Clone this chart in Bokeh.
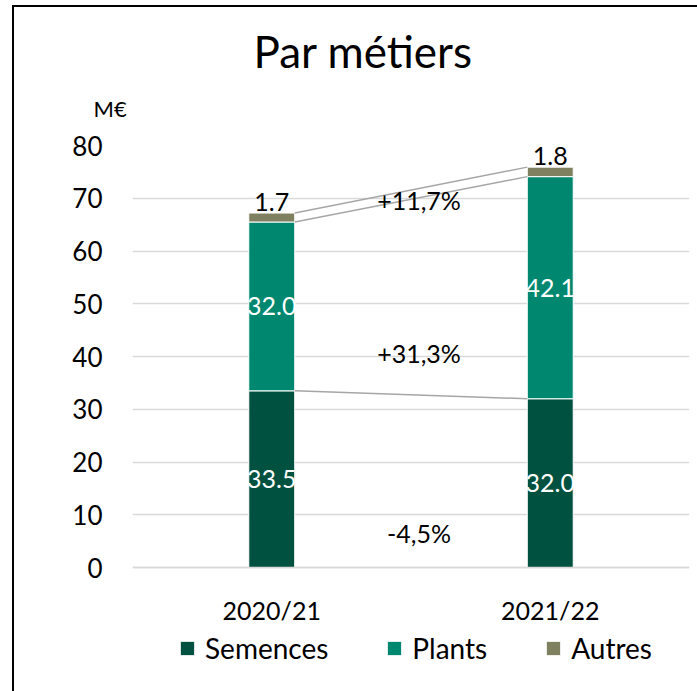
from bokeh.plotting import figure
from bokeh.models import (ColumnDataSource, FactorRange, Range1d, Label, LabelSet,
                          Legend, LegendItem, FixedTicker, Title)
from bokeh.core.properties import value
from bokeh.transform import dodge
from bokeh.embed import file_html
from bokeh.resources import INLINE

# ---------------- data ----------------
years = ["2020/21", "2021/22"]
series = ["Semences", "Plants", "Autres"]
semences = [33.5, 32.0]
plants = [32.0, 42.1]
autres = [1.7, 1.8]
changes = ["-4,5%", "+31,3%", "+11,7%"]      # Semences, Plants, total
y_ticks = [0, 10, 20, 30, 40, 50, 60, 70, 80]
title_text = "Par métiers"
unit_text = "M€"

# ---------------- style / layout ----------------
FONT = "Lato"
colors = ["#00513F", "#00876F", "#7E8060"]
GRID = "#d9d9d9"
CONN = "#a6a6a6"
BAR_W = 0.165
Y_BOTTOM = -21.4               # extra room under the axis for labels + legend
CHANGE_Y = [6.6, 40.6, 69.6]   # label positions (layout)

p = figure(title=None, x_range=FactorRange(*years), y_range=Range1d(Y_BOTTOM, 80),
           frame_width=557, frame_height=535,
           output_backend="svg", toolbar_location=None,
           min_border_left=132, min_border_right=8, min_border_top=145,
           min_border_bottom=11)
p.outline_line_color = None
p.background_fill_color = "white"
p.border_fill_alpha = 0
p.styles = {
    "background": "linear-gradient(#000, #000) 12px 5px / 2px 100% no-repeat, "
                  "linear-gradient(#000, #000) 12px 5px / 100% 2px no-repeat, white"
}

src = ColumnDataSource(dict(year=years, Semences=semences, Plants=plants, Autres=autres))
rs = p.vbar_stack(series, x="year", width=BAR_W, fill_color=colors,
                  line_color="white", line_width=1, source=src)

# segment labels
lab_src = ColumnDataSource(dict(
    year=years + years,
    y=[s / 2 for s in semences] + [s + pl / 2 for s, pl in zip(semences, plants)],
    text=["%.1f" % v for v in semences] + ["%.1f" % v for v in plants]))
p.add_layout(LabelSet(x="year", y="y", text="text", source=lab_src,
                      text_color="white", text_font=value(FONT), text_font_size="25px",
                      text_align="center", text_baseline="middle"))
tot = [s + pl + a for s, pl, a in zip(semences, plants, autres)]
top_src = ColumnDataSource(dict(year=years, y=tot, text=["%.1f" % v for v in autres]))
p.add_layout(LabelSet(x="year", y="y", text="text", source=top_src, y_offset=2,
                      text_color="black", text_font=value(FONT), text_font_size="25px",
                      text_align="center", text_baseline="bottom"))

# connector lines
lev0 = [semences[0], semences[0] + plants[0], tot[0]]
lev1 = [semences[1], semences[1] + plants[1], tot[1]]
con_src = ColumnDataSource(dict(x0=[years[0]] * 3, x1=[years[1]] * 3, y0=lev0, y1=lev1))
p.segment(x0=dodge("x0", BAR_W / 2, range=p.x_range), y0="y0",
          x1=dodge("x1", -BAR_W / 2, range=p.x_range), y1="y1",
          source=con_src, line_color=CONN, line_width=1.5)

# change labels
for txt, yy in zip(changes, CHANGE_Y):
    p.add_layout(Label(x=1.0, y=yy, x_offset=8, text=txt, text_font=FONT,
                       text_font_size="25px", text_color="black",
                       text_align="center", text_baseline="middle"))

# axes & grid
p.xgrid.grid_line_color = None
p.ygrid.ticker = FixedTicker(ticks=y_ticks)
p.ygrid.grid_line_color = GRID
p.ygrid.grid_line_width = 1.5
p.yaxis.ticker = FixedTicker(ticks=y_ticks)
p.yaxis.axis_line_color = None
p.yaxis.major_tick_line_color = None
p.yaxis.minor_tick_line_color = None
p.yaxis.major_label_text_font = FONT
p.yaxis.major_label_text_font_size = "26px"
p.yaxis.major_label_text_color = "black"
p.yaxis.major_label_standoff = 24
p.xaxis.fixed_location = 0
p.xaxis.axis_line_color = GRID
p.xaxis.axis_line_width = 1.5
p.xaxis.major_tick_line_color = None
p.xaxis.minor_tick_line_color = None
p.xaxis.major_label_text_font = FONT
p.xaxis.major_label_text_font_size = "25px"
p.xaxis.major_label_text_color = "black"
p.xaxis.major_label_standoff = 21

# legend (inside the frame, under the axis)
items = [LegendItem(label=s, renderers=[r]) for s, r in zip(series, rs)]
leg = Legend(items=items, orientation="horizontal", location=(46, 15),
             label_text_font=FONT, label_text_font_size="28px",
             label_text_color="black",
             glyph_width=18, glyph_height=18, label_standoff=9, spacing=57,
             padding=0, margin=0, border_line_color=None,
             background_fill_alpha=0)
p.add_layout(leg, "center")

# unit (nearest the frame) and main title
p.add_layout(Title(text=unit_text, align="left", offset=-39, standoff=48,
                   text_font=FONT, text_font_size="22px", text_font_style="normal",
                   text_color="black"), "above")
p.add_layout(Title(text=title_text, align="left", offset=121, standoff=-16,
                   text_font=FONT, text_font_size="44px", text_font_style="normal",
                   text_color="black"), "above")

open("out.html", "w").write(file_html(p, INLINE))
